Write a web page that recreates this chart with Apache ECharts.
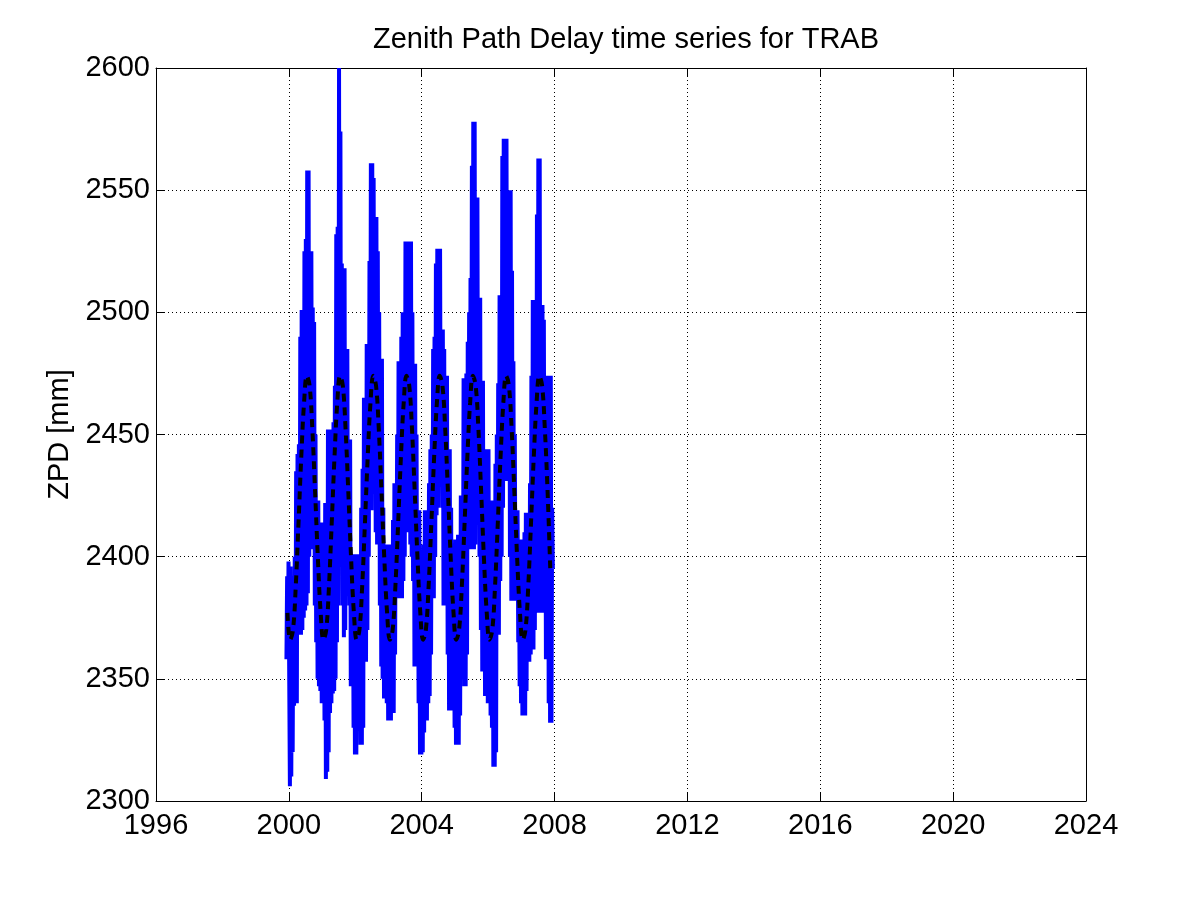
<!DOCTYPE html>
<html><head><meta charset="utf-8">
<script src="https://cdn.jsdelivr.net/npm/echarts@6/dist/echarts.min.js"></script>
<style>html,body{margin:0;padding:0;background:#fff}#c{width:1201px;height:901px}</style>
</head><body><div id="c"></div>
<script>
// Axis ticks
const xTicks = [1996, 2000, 2004, 2008, 2012, 2016, 2020, 2024];
const yTicks = [2300, 2350, 2400, 2450, 2500, 2550, 2600];

// ZPD observations [mm]: alternating high/low readings per half-month slot, starting 1999.917
const zpdStart = [2358, 2392, 2362, 2398];
const zpd2000 = [2398,2306, 2396,2310, 2387,2320, 2390,2339, 2400,2345, 2435,2340, 2442,2368, 2446,2368, 2490,2368, 2501,2370, 2500,2375, 2525,2378,
                 2530,2380, 2558,2385, 2558,2400, 2525,2403, 2525,2405, 2502,2405, 2496,2380, 2450,2365, 2423,2350, 2423,2347, 2414,2345, 2414,2340];
const zpd2001 = [2414,2340, 2414,2333, 2422,2309, 2422,2312, 2452,2320, 2452,2336, 2450,2340, 2452,2344, 2455,2345, 2470,2350, 2532,2365, 2535,2380,
                 2600,2400, 2574,2400, 2520,2380, 2518,2367, 2518,2370, 2485,2384, 2485,2384, 2448,2380, 2448,2347, 2401,2347, 2401,2330, 2401,2319];
const zpd2002 = [2401,2319, 2401,2339, 2401,2339, 2397,2323, 2420,2323, 2436,2330, 2465,2357, 2465,2357, 2487,2370, 2487,2400, 2521,2419, 2561,2419,
                 2561,2426, 2555,2426, 2539,2410, 2539,2405, 2525,2405, 2500,2380, 2481,2355, 2481,2350, 2420,2342, 2405,2342, 2405,2340, 2405,2333];
const zpd2003 = [2405,2333, 2405,2333, 2405,2336, 2415,2336, 2430,2360, 2430,2384, 2450,2384, 2480,2383, 2480,2383, 2490,2383, 2500,2390, 2500,2400,
                 2529,2410, 2529,2410, 2529,2410, 2529,2405, 2529,2400, 2500,2390, 2479,2355, 2479,2355, 2450,2355, 2419,2340, 2419,2319, 2393,2319];
const zpd2004 = [2400,2320, 2405,2328, 2419,2333, 2419,2333, 2410,2340, 2430,2343, 2444,2360, 2450,2383, 2485,2383, 2490,2400, 2520,2417, 2526,2420,
                 2526,2432, 2526,2432, 2493,2420, 2493,2380, 2485,2380, 2474,2380, 2474,2360, 2444,2337, 2444,2337, 2420,2337, 2392,2337, 2392,2330];
const zpd2005 = [2407,2323, 2407,2323, 2409,2323, 2409,2335, 2425,2359, 2425,2359, 2473,2347, 2473,2347, 2475,2360, 2488,2403, 2500,2403, 2514,2403,
                 2560,2403, 2578,2403, 2578,2405, 2547,2413, 2547,2413, 2506,2400, 2506,2370, 2472,2353, 2472,2353, 2444,2343, 2444,2343, 2444,2340];
const zpd2006 = [2444,2343, 2397,2335, 2400,2330, 2423,2314, 2423,2314, 2438,2320, 2450,2368, 2471,2368, 2507,2390, 2507,2400, 2564,2420, 2571,2431,
                 2571,2431, 2571,2431, 2550,2431, 2550,2400, 2550,2382, 2517,2382, 2480,2382, 2450,2382, 2419,2382, 2419,2365, 2403,2347, 2403,2340];
const zpd2007 = [2407,2335, 2407,2335, 2410,2335, 2418,2345, 2418,2357, 2418,2357, 2430,2360, 2474,2362, 2505,2362, 2505,2370, 2505,2377, 2540,2377,
                 2563,2377, 2563,2377, 2503,2377, 2503,2377, 2497,2377, 2474,2358, 2474,2358, 2474,2340, 2474,2332, 2474,2332, 2420,2395];
const zpdStartYear = 1999.917;

// Seasonal fit [mm], monthly, starting 1999.958
const fitZpd = [2377,
  2366,2370,2388,2414,2441,2463,2474,2470,2452,2426,2399,2377,
  2366,2370,2388,2414,2441,2463,2474,2470,2452,2426,2399,2377,
  2366,2370,2388,2414,2441,2463,2474,2470,2452,2426,2399,2377,
  2366,2370,2388,2414,2441,2463,2474,2470,2452,2426,2399,2377,
  2366,2370,2388,2414,2441,2463,2474,2470,2452,2426,2399,2377,
  2366,2370,2388,2414,2441,2463,2474,2470,2452,2426,2399,2377,
  2366,2370,2388,2414,2441,2463,2474,2470,2452,2426,2399,2377,
  2366,2370,2388,2414,2441,2463,2474,2470,2452,2426,2393];
const fitStartYear = 1999.958;

const zpdAll = [].concat(zpdStart, zpd2000, zpd2001, zpd2002, zpd2003, zpd2004, zpd2005, zpd2006, zpd2007);
const obsData = zpdAll.map((v, i) => [zpdStartYear + (i + 0.5) / 48, v]);
const fitData = fitZpd.map((v, i) => [fitStartYear + i / 12, v]);

const FONT = "'Liberation Sans', Arial, Helvetica, sans-serif";
const FS = 29;
const chart = echarts.init(document.getElementById('c'), null, {renderer: 'canvas'});
const baseX = {
  type: 'value', min: xTicks[0], max: xTicks[xTicks.length - 1], interval: 4,
  axisLine: {show: true, onZero: false, lineStyle: {color: '#000', width: 1}},
  axisTick: {show: true, inside: true, length: 9, lineStyle: {color: '#000'}},
};
const baseY = {
  type: 'value', min: yTicks[0], max: yTicks[yTicks.length - 1], interval: 50,
  axisLine: {show: true, onZero: false, lineStyle: {color: '#000', width: 1}},
  axisTick: {show: true, inside: true, length: 9, lineStyle: {color: '#000'}},
};
chart.setOption({
  animation: false,
  backgroundColor: '#fff',
  title: {
    text: 'Zenith Path Delay time series for TRAB',
    left: 621, top: 20, textAlign: 'center',
    textStyle: {fontFamily: FONT, fontSize: 29, fontWeight: 'normal', color: '#000'}
  },
  grid: {left: 156, right: 115, top: 68, bottom: 100, containLabel: false},
  xAxis: [
    Object.assign({}, baseX, {
      position: 'bottom',
      axisLabel: {show: true, margin: 10, color: '#000', fontFamily: FONT, fontSize: FS, formatter: v => String(v)},
      splitLine: {show: true, lineStyle: {color: '#000', width: 1, type: [1, 3]}}
    }),
    Object.assign({}, baseX, {
      position: 'top', axisLabel: {show: false}, splitLine: {show: false}
    })
  ],
  yAxis: [
    Object.assign({}, baseY, {
      position: 'left',
      name: 'ZPD [mm]', nameLocation: 'middle', nameGap: 80,
      nameTextStyle: {fontFamily: FONT, fontSize: FS, color: '#000'},
      axisLabel: {show: true, margin: 6, color: '#000', fontFamily: FONT, fontSize: FS, formatter: v => String(v)},
      splitLine: {show: true, lineStyle: {color: '#000', width: 1, type: [1, 3]}}
    }),
    Object.assign({}, baseY, {
      position: 'right', axisLabel: {show: false}, splitLine: {show: false}
    })
  ],
  series: [
    {
      type: 'line', data: obsData, xAxisIndex: 0, yAxisIndex: 0,
      showSymbol: false, symbol: 'none',
      lineStyle: {color: '#0000ff', width: 4, join: 'miter'},
      z: 2
    },
    {
      type: 'line', data: fitData, xAxisIndex: 0, yAxisIndex: 0,
      showSymbol: false, symbol: 'none', smooth: 0.4,
      lineStyle: {color: '#000', width: 4, type: [8, 6]},
      z: 3
    }
  ]
});
</script></body></html>
